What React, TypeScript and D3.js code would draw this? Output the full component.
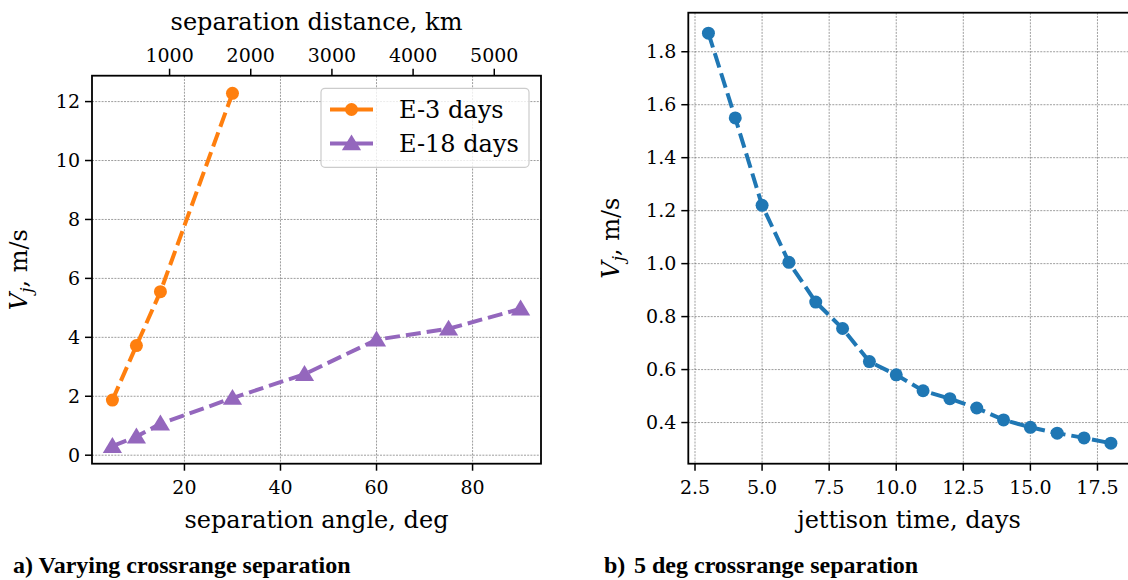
import React from "react";
import * as d3 from "d3";

const angleE3 = [5, 10, 15, 30];
const vjE3 = [1.87, 3.72, 5.55, 12.28];
const angleE18 = [5, 10, 15, 30, 45, 60, 75, 90];
const vjE18 = [0.31, 0.63, 1.07, 1.94, 2.75, 3.92, 4.29, 4.97];
const leftYTicks = [0, 2, 4, 6, 8, 10, 12];
const leftXTicks = [20, 40, 60, 80];
const topKmTicks = [1000, 2000, 3000, 4000, 5000];
const MARS_RADIUS_KM = 3389.5;

const jettisonDays = [3, 4, 5, 6, 7, 8, 9, 10, 11, 12, 13, 14, 15, 16, 17, 18];
const vjDays = [1.87, 1.55, 1.22, 1.005, 0.855, 0.755, 0.63, 0.58, 0.52, 0.49, 0.455, 0.41, 0.382, 0.36, 0.342, 0.322];
const rightXTicks = [2.5, 5.0, 7.5, 10.0, 12.5, 15.0, 17.5];
const rightYTicks = [0.4, 0.6, 0.8, 1.0, 1.2, 1.4, 1.6, 1.8];

const FONT = "DejaVu Serif";
const CAP_FONT = "Liberation Serif";
const TICK_FS = 19;
const LABEL_FS = 24;

function pad(lo: number, hi: number): [number, number] {
  const m = (hi - lo) * 0.05;
  return [lo - m, hi + m];
}

function YLabel({ x, y }: { x: number; y: number }) {
  return (
    <text
      transform={`translate(${x},${y}) rotate(-90)`}
      textAnchor="middle"
      style={{ fontFamily: FONT, fontSize: LABEL_FS }}
      fill="#000"
    >
      <tspan fontStyle="italic">V</tspan>
      <tspan fontStyle="italic" fontSize={17} dy={5}>j</tspan>
      <tspan dy={-5}>, m/s</tspan>
    </text>
  );
}

function tri(cx: number, cy: number, s: number) {
  const h = s * 0.95;
  return `M${cx},${cy - h * 0.6} L${cx + s * 0.6},${cy + h * 0.45} L${cx - s * 0.6},${cy + h * 0.45} Z`;
}

export default function App() {
  const L = { x0: 92, x1: 541, y0: 75.7, y1: 463.7 };
  const lx = d3.scaleLinear().domain(pad(5, 90)).range([L.x0, L.x1]);
  const ly = d3.scaleLinear().domain(pad(0.31, 12.28)).range([L.y1, L.y0]);
  const kmPerDeg = (MARS_RADIUS_KM * Math.PI) / 180;
  const [d0, d1] = lx.domain();
  const lxTop = d3.scaleLinear().domain([d0 * kmPerDeg, d1 * kmPerDeg]).range([L.x0, L.x1]);

  const lineGen = d3
    .line<[number, number]>()
    .x((d) => d[0])
    .y((d) => d[1]);

  const e3pts: [number, number][] = angleE3.map((a, i) => [lx(a), ly(vjE3[i])]);
  const e18pts: [number, number][] = angleE18.map((a, i) => [lx(a), ly(vjE18[i])]);

  const R = { x0: 688.3, x1: 1131, y0: 12.7, y1: 463.7 };
  const rx = d3.scaleLinear().domain(pad(3, 18)).range([R.x0, R.x1]);
  const ry = d3.scaleLinear().domain(pad(0.322, 1.87)).range([R.y1, R.y0]);
  const rpts: [number, number][] = jettisonDays.map((t, i) => [rx(t), ry(vjDays[i])]);

  const gridStyle = { stroke: "#333", strokeWidth: 0.6, strokeDasharray: "2,1.2", strokeOpacity: 0.8 };
  const dash = "15,6";
  const LW = 4;

  const tl = (fs: number) => ({ fontFamily: FONT, fontSize: fs });
  const cap = { fontFamily: CAP_FONT, fontWeight: "bold" as const, fontSize: 24 };

  return (
    <svg width={1128} height={580} style={{ position: "absolute", left: 0, top: 0, background: "#fff" }}>
      <rect x={0} y={0} width={1128} height={580} fill="#fff" />
      <g>
        {leftYTicks.map((t) => (
          <line key={"lgy" + t} x1={L.x0} x2={L.x1} y1={ly(t)} y2={ly(t)} {...gridStyle} />
        ))}
        {leftXTicks.map((t) => (
          <line key={"lgx" + t} x1={lx(t)} x2={lx(t)} y1={L.y0} y2={L.y1} {...gridStyle} />
        ))}
        <path d={lineGen(e18pts) || ""} fill="none" stroke="#9467bd" strokeWidth={LW} strokeDasharray={dash} />
        {e18pts.map((p, i) => (
          <path key={"e18" + i} d={tri(p[0], p[1], 16)} fill="#9467bd" />
        ))}
        <path d={lineGen(e3pts) || ""} fill="none" stroke="#ff7f0e" strokeWidth={LW} strokeDasharray={dash} />
        {e3pts.map((p, i) => (
          <circle key={"e3" + i} cx={p[0]} cy={p[1]} r={6.5} fill="#ff7f0e" />
        ))}
        <rect x={L.x0} y={L.y0} width={L.x1 - L.x0} height={L.y1 - L.y0} fill="none" stroke="#000" strokeWidth={1.8} />
        {leftYTicks.map((t) => (
          <g key={"lyt" + t}>
            <line x1={L.x0 - 7} x2={L.x0} y1={ly(t)} y2={ly(t)} stroke="#000" strokeWidth={1.5} />
            <text x={L.x0 - 12} y={ly(t)} dy="0.35em" textAnchor="end" style={tl(TICK_FS)}>
              {t}
            </text>
          </g>
        ))}
        {leftXTicks.map((t) => (
          <g key={"lxt" + t}>
            <line x1={lx(t)} x2={lx(t)} y1={L.y1} y2={L.y1 + 7} stroke="#000" strokeWidth={1.5} />
            <text x={lx(t)} y={L.y1 + 30} textAnchor="middle" style={tl(TICK_FS)}>
              {t}
            </text>
          </g>
        ))}
        {topKmTicks.map((t) => (
          <g key={"ltt" + t}>
            <line x1={lxTop(t)} x2={lxTop(t)} y1={L.y0} y2={L.y0 - 7} stroke="#000" strokeWidth={1.5} />
            <text x={lxTop(t)} y={L.y0 - 14} textAnchor="middle" style={tl(TICK_FS)}>
              {t}
            </text>
          </g>
        ))}
        <text x={(L.x0 + L.x1) / 2} y={30} textAnchor="middle" style={tl(LABEL_FS)}>
          separation distance, km
        </text>
        <text x={(L.x0 + L.x1) / 2} y={528} textAnchor="middle" style={tl(LABEL_FS)}>
          separation angle, deg
        </text>
        <YLabel x={27} y={(L.y0 + L.y1) / 2} />
        <g>
          <rect x={321} y={88.3} width={208} height={79} rx={4} fill="#fff" fillOpacity={0.8} stroke="#ccc" strokeWidth={1.2} />
          <line x1={330} x2={373} y1={109.5} y2={109.5} stroke="#ff7f0e" strokeWidth={LW} />
          <circle cx={351.5} cy={109.5} r={6.5} fill="#ff7f0e" />
          <text x={399} y={109.5} dy="0.35em" style={tl(LABEL_FS)}>
            E-3 days
          </text>
          <line x1={330} x2={373} y1={143.5} y2={143.5} stroke="#9467bd" strokeWidth={LW} />
          <path d={tri(351.5, 143.5, 16)} fill="#9467bd" />
          <text x={399} y={143.5} dy="0.35em" style={tl(LABEL_FS)}>
            E-18 days
          </text>
        </g>
      </g>

      <g>
        {rightYTicks.map((t) => (
          <line key={"rgy" + t} x1={R.x0} x2={R.x1} y1={ry(t)} y2={ry(t)} {...gridStyle} />
        ))}
        {rightXTicks.map((t) => (
          <line key={"rgx" + t} x1={rx(t)} x2={rx(t)} y1={R.y0} y2={R.y1} {...gridStyle} />
        ))}
        <path d={lineGen(rpts) || ""} fill="none" stroke="#1f77b4" strokeWidth={LW} strokeDasharray={dash} />
        {rpts.map((p, i) => (
          <circle key={"r" + i} cx={p[0]} cy={p[1]} r={6.5} fill="#1f77b4" />
        ))}
        <rect x={R.x0} y={R.y0} width={R.x1 - R.x0} height={R.y1 - R.y0} fill="none" stroke="#000" strokeWidth={1.8} />
        {rightYTicks.map((t) => (
          <g key={"ryt" + t}>
            <line x1={R.x0 - 7} x2={R.x0} y1={ry(t)} y2={ry(t)} stroke="#000" strokeWidth={1.5} />
            <text x={R.x0 - 12} y={ry(t)} dy="0.35em" textAnchor="end" style={tl(TICK_FS)}>
              {t.toFixed(1)}
            </text>
          </g>
        ))}
        {rightXTicks.map((t) => (
          <g key={"rxt" + t}>
            <line x1={rx(t)} x2={rx(t)} y1={R.y1} y2={R.y1 + 7} stroke="#000" strokeWidth={1.5} />
            <text x={rx(t)} y={R.y1 + 30} textAnchor="middle" style={tl(TICK_FS)}>
              {t.toFixed(1)}
            </text>
          </g>
        ))}
        <text x={909} y={528} textAnchor="middle" style={tl(LABEL_FS)}>
          jettison time, days
        </text>
        <YLabel x={619} y={(R.y0 + R.y1) / 2} />
      </g>

      <text x={13} y={573} style={cap}>
        a) Varying crossrange separation
      </text>
      <text x={604} y={573} style={cap}>
        b)
      </text>
      <text x={634} y={573} style={cap}>
        5 deg crossrange separation
      </text>
    </svg>
  );
}
